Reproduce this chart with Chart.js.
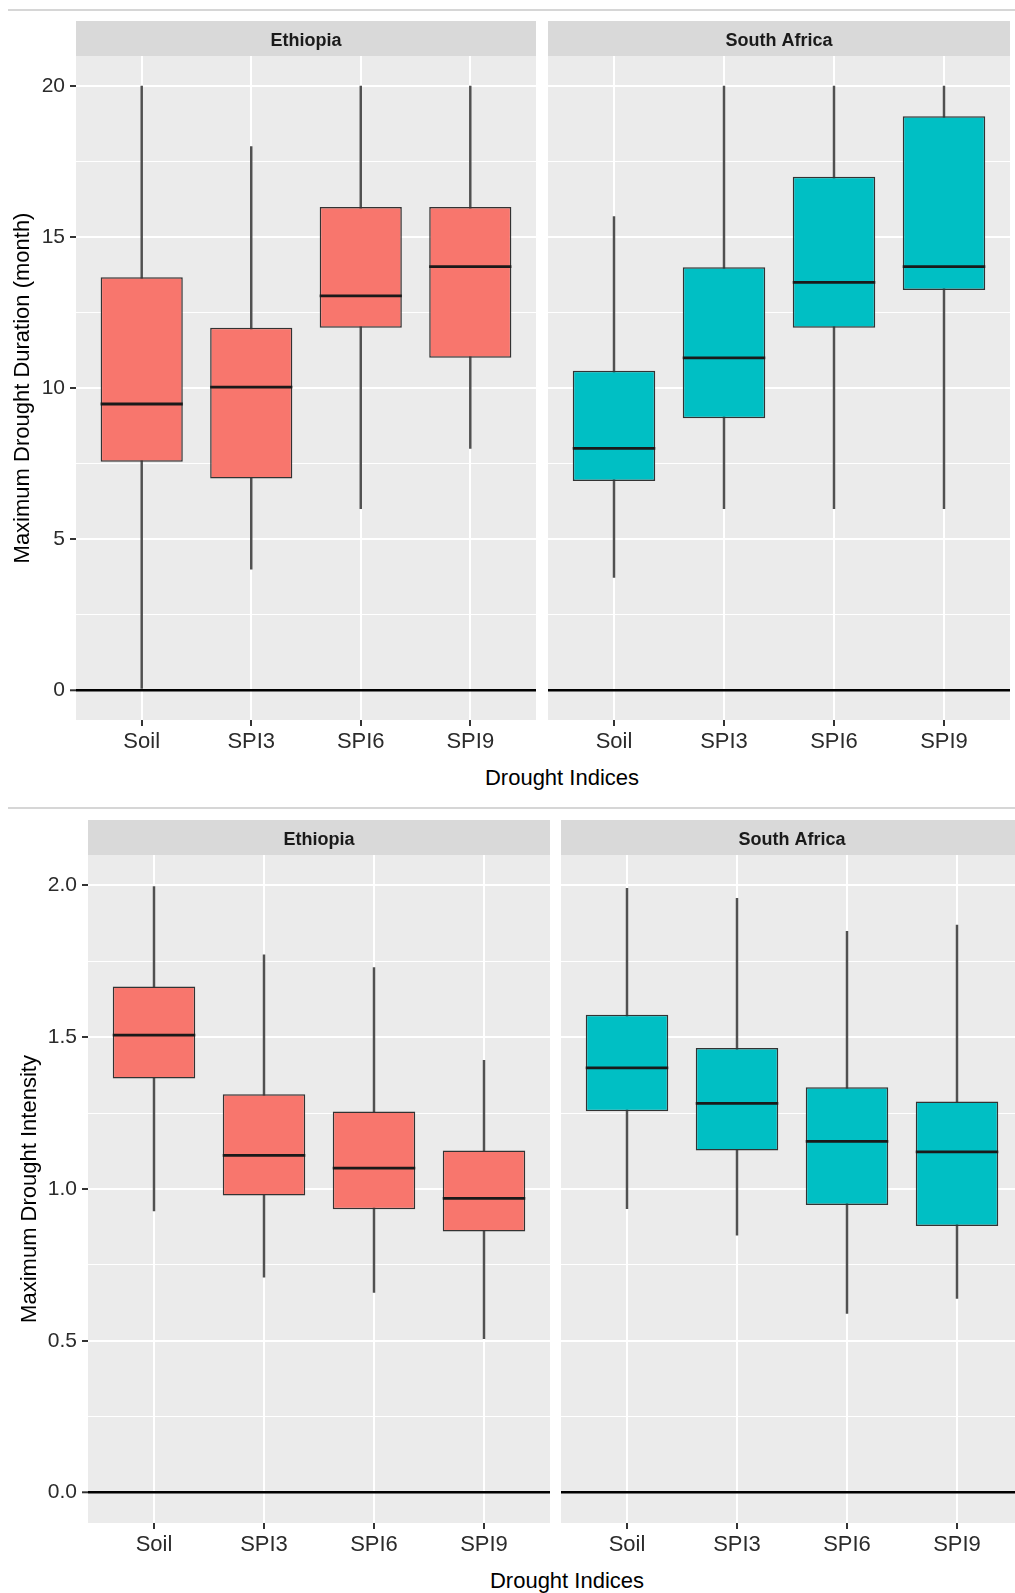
<!DOCTYPE html>
<html>
<head>
<meta charset="utf-8">
<script src="https://cdn.jsdelivr.net/npm/chart.js@4.4.1/dist/chart.umd.min.js"></script>
<style>
  html, body { margin: 0; padding: 0; background: #fff; }
  #page { position: relative; width: 1015px; height: 1593px; overflow: hidden;
          font-family: "Liberation Sans", Arial, sans-serif; }
  .sep { position: absolute; left: 8px; width: 1007px; height: 2px; background: #d6d6d6; }
  .panel { position: absolute; }
  .xtitle { position: absolute; font-size: 22px; line-height: 26px; color: #000;
            transform: translateX(-50%); white-space: nowrap; }
</style>
</head>
<body>
<div id="page">
  <div class="sep" style="top:9px"></div>
  <div class="panel" style="left:0;top:21px;width:536px;height:739px"><canvas id="durEth"></canvas></div>
  <div class="panel" style="left:548px;top:21px;width:462px;height:739px"><canvas id="durSaf"></canvas></div>
  <div class="xtitle" style="left:562px;top:765px">Drought Indices</div>

  <div class="sep" style="top:807px"></div>
  <div class="panel" style="left:0;top:820px;width:550px;height:743px"><canvas id="intEth"></canvas></div>
  <div class="panel" style="left:561px;top:820px;width:462px;height:743px"><canvas id="intSaf"></canvas></div>
  <div class="xtitle" style="left:567px;top:1568px">Drought Indices</div>
</div>

<script>
// categories and facets
const indices = ['Soil', 'SPI3', 'SPI6', 'SPI9'];
const regions = ['Ethiopia', 'South Africa'];

// Maximum drought duration (month) - Ethiopia
const durEthMin = [0, 4, 6, 8];
const durEthQ1 = [7.56, 7, 12, 11];
const durEthMed = [9.47, 10.03, 13.05, 14.02];
const durEthQ3 = [13.67, 12, 16, 16];
const durEthMax = [20, 18, 20, 20];

// Maximum drought duration (month) - South Africa
const durSafMin = [3.72, 6, 6, 6];
const durSafQ1 = [6.92, 9, 12, 13.25];
const durSafMed = [8, 11, 13.5, 14.02];
const durSafQ3 = [10.57, 14, 17, 19];
const durSafMax = [15.68, 20, 20, 20];

// Maximum drought intensity - Ethiopia
const intEthMin = [0.928, 0.71, 0.659, 0.507];
const intEthQ1 = [1.364, 0.979, 0.933, 0.86];
const intEthMed = [1.507, 1.111, 1.069, 0.969];
const intEthQ3 = [1.667, 1.312, 1.255, 1.127];
const intEthMax = [1.996, 1.771, 1.729, 1.424];

// Maximum drought intensity - South Africa
const intSafMin = [0.935, 0.848, 0.59, 0.64];
const intSafQ1 = [1.256, 1.127, 0.947, 0.878];
const intSafMed = [1.399, 1.282, 1.157, 1.122];
const intSafQ3 = [1.574, 1.464, 1.335, 1.288];
const intSafMax = [1.99, 1.957, 1.849, 1.869];

// y axis ticks
const durTicks = [0, 5, 10, 15, 20];
const durTickLabels = ['0', '5', '10', '15', '20'];
const durMinor = [2.5, 7.5, 12.5, 17.5];
const intTicks = [0, 0.5, 1, 1.5, 2];
const intTickLabels = ['0.0', '0.5', '1.0', '1.5', '2.0'];
const intMinor = [0.25, 0.75, 1.25, 1.75];

const FONT = '"Liberation Sans", Arial, sans-serif';
Chart.defaults.font.family = FONT;
const BOX_W = 0.75;

// panel background + strip label
const facetPlugin = {
  id: 'facet',
  beforeDraw(chart, args, opts) {
    const { ctx, chartArea: a } = chart;
    ctx.save();
    ctx.fillStyle = '#EBEBEB';
    ctx.fillRect(a.left, a.top, a.right - a.left, a.bottom - a.top);
    ctx.fillStyle = '#D9D9D9';
    ctx.fillRect(a.left, 0, a.right - a.left, a.top);
    ctx.fillStyle = '#1A1A1A';
    ctx.font = 'bold 18px ' + FONT;
    ctx.textAlign = 'center';
    ctx.textBaseline = 'middle';
    ctx.fillText(opts.label, (a.left + a.right) / 2, a.top / 2 + 3);
    ctx.restore();
  }
};

function unitPx(chart) {
  const x = chart.scales.x;
  return x.getPixelForValue(2) - x.getPixelForValue(1);
}

function makePanel(id, o) {
  const xs = indices.map((_, i) => i + 1);
  const allTicks = o.major.concat(o.minor).sort((a, b) => a - b);
  const isMajor = v => o.major.indexOf(v) >= 0;
  const halfBox = ctx => unitPx(ctx.chart) * BOX_W / 2;

  return new Chart(document.getElementById(id), {
    type: 'bar',
    data: {
      datasets: [
        {
          // medians
          type: 'line', showLine: false, order: 0,
          data: xs.map((x, i) => ({ x: x, y: o.med[i] })),
          pointStyle: 'line',
          pointRadius: halfBox, pointHoverRadius: halfBox,
          pointBorderColor: '#1a1a1a', pointBorderWidth: 2.8
        },
        {
          // boxes
          order: 1, grouped: false,
          data: xs.map((x, i) => ({ x: x, y: [o.q1[i], o.q3[i]] })),
          backgroundColor: o.color, borderColor: '#333333', borderWidth: 1.5,
          borderSkipped: false, categoryPercentage: 1, barPercentage: BOX_W
        },
        {
          // whiskers
          order: 2, grouped: false,
          data: xs.map((x, i) => ({ x: x, y: [o.min[i], o.max[i]] })),
          backgroundColor: '#505050', borderWidth: 0, barThickness: 1.8
        }
      ]
    },
    options: {
      responsive: true,
      maintainAspectRatio: false,
      animation: false,
      events: [],
      layout: { padding: { top: 35, left: 0, right: 0, bottom: 0 } },
      plugins: {
        legend: { display: false },
        tooltip: { enabled: false },
        facet: { label: o.label }
      },
      scales: {
        x: {
          type: 'linear', min: 0.4, max: 4.6, offset: false,
          afterBuildTicks: s => { s.ticks = xs.map(v => ({ value: v })); },
          afterFit: s => { s.height = 40; s.paddingLeft = 0; s.paddingRight = 0; },
          ticks: {
            callback: (v, i) => indices[i],
            autoSkip: false, maxRotation: 0,
            font: { size: 22 }, color: '#2b2b2b', padding: 3
          },
          grid: { offset: false, color: '#ffffff', lineWidth: 2, tickColor: '#333333',
                  tickLength: 6, tickWidth: 2, z: -2 },
          border: { display: false }
        },
        y: {
          min: o.yMin, max: o.yMax,
          afterBuildTicks: s => { s.ticks = allTicks.map(v => ({ value: v })); },
          afterFit: s => { s.width = o.axisWidth; s.paddingTop = 0; s.paddingBottom = 0; },
          ticks: {
            display: o.showY,
            callback: v => { const k = o.major.indexOf(v); return k < 0 ? '' : o.labels[k]; },
            font: { size: 21 }, color: '#2b2b2b', padding: 5
          },
          grid: {
            z: -1,
            drawTicks: o.showY,
            color: c => (c.tick && c.tick.value === 0) ? '#000000' : '#ffffff',
            lineWidth: c => (c.tick && c.tick.value === 0) ? 2.6 : (c.tick && isMajor(c.tick.value) ? 2 : 1),
            tickColor: c => (c.tick && isMajor(c.tick.value)) ? '#333333' : 'rgba(0,0,0,0)',
            tickLength: 6, tickWidth: 2
          },
          border: { display: false },
          title: {
            display: o.showY, text: o.title || '', color: '#000000',
            font: { size: 22 }, padding: { top: o.titlePad || 0, bottom: 0 }
          }
        }
      }
    },
    plugins: [facetPlugin]
  });
}

const durY = { yMin: -1, yMax: 21, major: durTicks, minor: durMinor, labels: durTickLabels,
               title: 'Maximum Drought Duration (month)', titlePad: 10 };
const intY = { yMin: -0.1, yMax: 2.1, major: intTicks, minor: intMinor, labels: intTickLabels,
               title: 'Maximum Drought Intensity', titlePad: 17 };

makePanel('durEth', Object.assign({}, durY, {
  label: regions[0], color: '#F8766D', showY: true, axisWidth: 76,
  min: durEthMin, q1: durEthQ1, med: durEthMed, q3: durEthQ3, max: durEthMax
}));
makePanel('durSaf', Object.assign({}, durY, {
  label: regions[1], color: '#00BFC4', showY: false, axisWidth: 0,
  min: durSafMin, q1: durSafQ1, med: durSafMed, q3: durSafQ3, max: durSafMax
}));
makePanel('intEth', Object.assign({}, intY, {
  label: regions[0], color: '#F8766D', showY: true, axisWidth: 88,
  min: intEthMin, q1: intEthQ1, med: intEthMed, q3: intEthQ3, max: intEthMax
}));
makePanel('intSaf', Object.assign({}, intY, {
  label: regions[1], color: '#00BFC4', showY: false, axisWidth: 0,
  min: intSafMin, q1: intSafQ1, med: intSafMed, q3: intSafQ3, max: intSafMax
}));
</script>
</body>
</html>
